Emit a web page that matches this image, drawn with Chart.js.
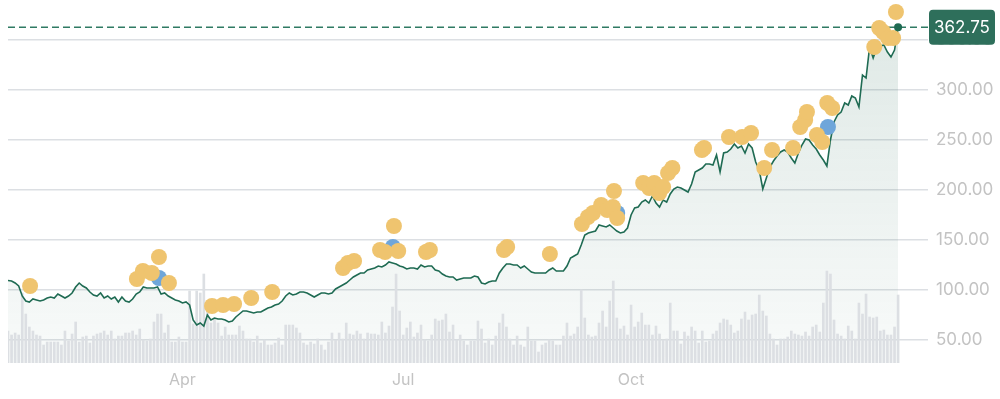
<!DOCTYPE html>
<html lang="en">
<head>
<meta charset="UTF-8">
<title>Price chart</title>
<script src="https://cdn.jsdelivr.net/npm/chart.js"></script>
<style>
  html, body { margin: 0; padding: 0; background: #fff; }
  .chart-box { position: relative; width: 1000px; height: 399px; }
</style>
</head>
<body>
<div class="chart-box"><canvas id="priceChart"></canvas></div>
<script>
// daily closes, one per trading day (index 0 = first day of the range)
const prices = [
  109.5, 109, 107, 104, 94, 89, 88, 91, 90, 89,
  90, 92, 93, 92, 96, 94, 92, 94, 97, 103,
  107, 104, 102, 98, 95, 94, 97, 92, 94, 91,
  93, 88, 93, 89, 88, 91, 96, 98, 103, 102,
  102, 102, 103, 96, 97, 94, 92, 90, 89, 87,
  88, 85, 70, 65, 67, 64, 75, 70, 72, 71,
  71, 70, 68, 69, 73, 76, 79, 79, 78, 77,
  78, 78, 80, 82, 83, 85, 86, 89, 94, 97,
  95, 96, 98, 98, 97, 95, 93, 95, 97, 97,
  96, 97, 101, 103, 105, 107, 110, 113, 115, 117,
  117, 120, 121, 122, 124, 123, 125, 128, 127, 126,
  124, 123, 121, 122, 122, 121, 125, 123, 124, 124,
  120, 119, 116, 114, 113, 113, 110, 111, 112, 112,
  112, 114, 113, 107, 106, 108, 109, 109, 117, 122,
  126, 126, 125, 125, 122, 124, 121, 118, 117, 117,
  117, 117, 120, 122, 119, 119, 119, 124, 132, 134,
  136, 145, 155, 157, 158, 159, 165, 164, 163, 165,
  162, 159, 157, 158, 162, 175, 182, 183, 188, 190,
  187, 194, 187, 183, 190, 188, 196, 201, 203, 202,
  200, 198, 206, 218, 220, 222, 226, 226, 225, 235,
  218, 237, 238, 241, 246, 242, 244, 237, 246, 242,
  228, 220, 201, 212, 223, 229, 234, 238, 240, 238,
  232, 227, 237, 245, 251, 250, 245, 241, 235, 230,
  224, 250, 268, 275, 278, 287, 285, 294, 292, 283,
  315, 312, 343, 332, 342, 344, 345, 338, 333, 340,
  362.75
];

// daily volume (millions)
const volumes = [
  32, 28, 30, 28, 70, 49, 36, 32, 28, 27,
  18, 21, 21, 21, 21, 18, 32, 22, 29, 41,
  21, 26, 27, 20, 27, 29, 30, 32, 28, 32,
  24, 27, 27, 30, 30, 32, 28, 34, 23, 22,
  24, 41, 49, 49, 30, 38, 21, 21, 26, 21,
  21, 72, 39, 72, 70, 89, 57, 40, 45, 40,
  27, 36, 28, 28, 28, 37, 32, 24, 24, 21,
  27, 20, 23, 18, 18, 20, 25, 18, 38, 38,
  38, 35, 30, 20, 18, 21, 19, 24, 18, 13,
  21, 30, 23, 30, 24, 40, 29, 28, 32, 29,
  24, 30, 29, 29, 28, 41, 30, 37, 56, 89,
  52, 28, 35, 41, 26, 30, 38, 23, 22, 28,
  44, 42, 43, 49, 31, 38, 23, 28, 22, 18,
  22, 22, 42, 34, 20, 24, 18, 27, 40, 49,
  36, 24, 18, 27, 18, 16, 36, 22, 22, 11,
  18, 20, 23, 22, 18, 18, 27, 40, 27, 29,
  36, 73, 45, 28, 26, 27, 40, 52, 36, 62,
  82, 45, 34, 37, 28, 58, 36, 41, 50, 38,
  38, 28, 37, 29, 23, 24, 60, 32, 32, 19,
  31, 27, 36, 32, 20, 32, 21, 22, 29, 32,
  40, 44, 43, 38, 30, 32, 44, 51, 43, 48,
  49, 68, 52, 47, 29, 24, 18, 24, 24, 26,
  32, 29, 28, 27, 31, 27, 36, 38, 31, 60,
  92, 89, 43, 29, 27, 24, 37, 32, 24, 60,
  49, 69, 46, 45, 46, 32, 33, 28, 28, 36,
  68
];

// news markers (yellow) and earnings markers (blue): day index + price level
const newsDay = [6.2, 36.2, 37.9, 40.4, 42.4, 45.2, 57.3, 60.4, 63.5, 68.3, 74.2,
  94.1, 95.5, 97.2, 104.5, 105.9, 108.4, 109.6, 117.4, 118.5, 139.3, 140.2, 152.2,
  161.2, 162.9, 164.3, 166.6, 168.3, 169.9, 170.2, 171.1, 178.4, 180.1, 181.5, 182.9,
  184, 185.4, 186.6, 194.9, 195.5, 202.5, 206.2, 208.7, 212.4, 214.6, 220.5, 222.5,
  223.9, 224.4, 227.2, 228.7, 230.1, 231.5, 243.3, 244.7, 245.8, 247.2, 248.6, 249.4];
const newsPrice = [104, 111, 119, 117, 133, 107, 84, 85, 86, 92, 98,
  122, 127, 129, 140, 138, 164, 139, 138, 140, 140, 143, 136,
  166, 173, 177, 185, 180, 183, 199, 172, 207, 202, 207, 197,
  203, 217, 222, 240, 242, 253, 253, 257, 222, 240, 242, 263,
  270, 278, 255, 248, 287, 282, 343, 362, 358, 352, 352, 378];
const earningsDay = [42.4, 108.1, 171.1, 230.3];
const earningsPrice = [112, 143, 177, 263];

const monthTickIndex = [49, 111, 175];
const monthTickLabels = ['Apr', 'Jul', 'Oct'];
const priceTicks = [50, 100, 150, 200, 250, 300, 350];
const lastPrice = 362.75;

const dayMax = 258.4;
const axisFont = { family: 'Inter', size: 17 };

const priceTag = {
    id: 'priceTag',
    afterDraw(chart) {
        const ctx = chart.ctx;
        const y = chart.scales.y.getPixelForValue(lastPrice);
        const x = chart.chartArea.right + 1;
        const w = 66, h = 35;
        ctx.save();
        ctx.fillStyle = '#2e6f5b';
        ctx.beginPath();
        ctx.roundRect(x, y - h / 2, w, h, 4);
        ctx.fill();
        ctx.fillStyle = '#ffffff';
        ctx.font = '17px Inter';
        ctx.textAlign = 'center';
        ctx.textBaseline = 'middle';
        ctx.fillText(lastPrice.toFixed(2), x + w / 2, y + 1);
        ctx.restore();
    }
};

function fillGradient(context) {
    const area = context.chart.chartArea;
    if (!area) return 'rgba(45, 110, 90, 0.08)';
    const g = context.chart.ctx.createLinearGradient(0, area.top, 0, area.bottom);
    g.addColorStop(0, 'rgba(45, 110, 90, 0.16)');
    g.addColorStop(1, 'rgba(45, 110, 90, 0.03)');
    return g;
}

const config = {
    type: 'line',
    data: {
        datasets: [
            {
                type: 'bar',
                data: volumes.map((v, i) => ({ x: i, y: v })),
                yAxisID: 'yVol',
                backgroundColor: '#dcdfe3',
                barThickness: 2,
                order: 5
            },
            {
                type: 'line',
                data: prices.map((v, i) => ({ x: i, y: v })),
                borderColor: '#1f6b53',
                borderWidth: 1.6,
                pointRadius: 0,
                tension: 0,
                fill: 'start',
                backgroundColor: fillGradient,
                order: 4
            },
            {
                type: 'line',
                data: [{ x: 0, y: lastPrice }, { x: dayMax, y: lastPrice }],
                borderColor: '#2f7a63',
                borderWidth: 1.5,
                borderDash: [7, 4],
                pointRadius: 0,
                fill: false,
                order: 3
            },
            {
                type: 'scatter',
                data: earningsDay.map((d, i) => ({ x: d, y: earningsPrice[i] })),
                backgroundColor: '#6fa6da',
                borderWidth: 0,
                pointRadius: 8,
                order: 2
            },
            {
                type: 'scatter',
                data: newsDay.map((d, i) => ({ x: d, y: newsPrice[i] })),
                backgroundColor: '#efc46f',
                borderWidth: 0,
                pointRadius: 8,
                order: 1
            },
            {
                type: 'scatter',
                data: [{ x: prices.length - 1, y: lastPrice }],
                backgroundColor: '#1f6b53',
                borderWidth: 0,
                pointRadius: 4,
                order: 0
            }
        ]
    },
    options: {
        responsive: true,
        maintainAspectRatio: false,
        animation: false,
        events: [],
        layout: { autoPadding: false, padding: { left: 8, top: 0, right: 0, bottom: 0 } },
        plugins: {
            legend: { display: false },
            tooltip: { enabled: false },
            filler: { drawTime: 'beforeDatasetsDraw' }
        },
        scales: {
            x: {
                type: 'linear',
                min: 0,
                max: dayMax,
                offset: false,
                grid: { display: false, drawTicks: false },
                border: { display: false },
                afterBuildTicks: (scale) => {
                    scale.ticks = monthTickIndex.map(v => ({ value: v }));
                },
                afterFit: (scale) => {
                    scale.height = 36;
                    scale.paddingLeft = 0;
                    scale.paddingRight = 0;
                },
                ticks: {
                    autoSkip: false,
                    maxRotation: 0,
                    padding: 8,
                    color: '#c3c3c3',
                    font: { family: 'Inter', size: 16 },
                    callback: (value) => monthTickLabels[monthTickIndex.indexOf(value)]
                }
            },
            y: {
                position: 'right',
                min: 27,
                max: 390,
                grid: { color: '#dcdfe3', lineWidth: 1.5, drawTicks: false },
                border: { display: false },
                afterBuildTicks: (scale) => {
                    scale.ticks = priceTicks.map(v => ({ value: v }));
                },
                afterFit: (scale) => {
                    scale.width = 72;
                    scale.paddingTop = 0;
                    scale.paddingBottom = 0;
                },
                ticks: {
                    padding: 8,
                    color: '#c3c3c3',
                    font: axisFont,
                    callback: (value) => value.toFixed(2)
                }
            },
            yVol: {
                display: false,
                min: 0,
                max: 363
            }
        }
    },
    plugins: [priceTag]
};

new Chart(document.getElementById('priceChart'), config);
</script>
</body>
</html>
